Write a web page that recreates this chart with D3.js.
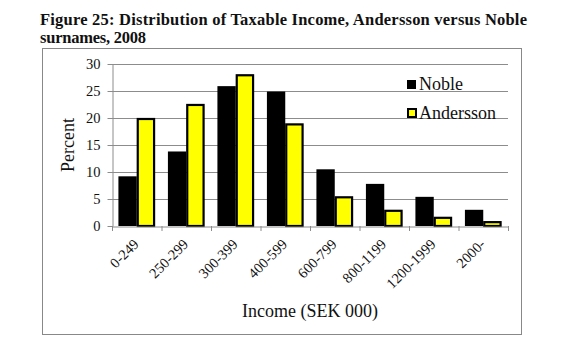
<!DOCTYPE html>
<html>
<head>
<meta charset="utf-8">
<script src="https://cdn.jsdelivr.net/npm/d3@7"></script>
<style>
  html, body { margin: 0; padding: 0; background: #fff; }
  svg { display: block; font-family: "Liberation Serif", "DejaVu Serif", serif; }
</style>
</head>
<body>
<svg id="chart" width="568" height="346"></svg>
<script>
// Income brackets (SEK 000) and share of each surname group, percent
const categories = ["0-249", "250-299", "300-399", "400-599", "600-799", "800-1199", "1200-1999", "2000-"];
const noble = [9.2, 13.8, 25.9, 24.9, 10.5, 7.8, 5.4, 3.0];
const andersson = [20.0, 22.6, 28.1, 19.0, 5.5, 3.0, 1.7, 0.9];
const seriesNames = ["Noble", "Andersson"];
const yTicks = [0, 5, 10, 15, 20, 25, 30];

const svg = d3.select("#chart");

// Title, two lines
const title = svg.append("text")
  .attr("font-weight", "bold").attr("font-size", 16.5).attr("fill", "#111");
title.append("tspan").attr("x", 40).attr("y", 25)
  .attr("textLength", 487).attr("lengthAdjust", "spacing")
  .text("Figure 25:  Distribution of Taxable Income, Andersson versus Noble");
title.append("tspan").attr("x", 40).attr("y", 43)
  .attr("textLength", 106).attr("lengthAdjust", "spacing")
  .text("surnames, 2008");

// Chart frame
svg.append("rect")
  .attr("x", 42.5).attr("y", 48.5).attr("width", 479).attr("height", 286)
  .attr("fill", "none").attr("stroke", "#888").attr("stroke-width", 1);

const plot = { left: 112, right: 508, top: 64, bottom: 226 };

const x = d3.scaleBand().domain(categories).range([plot.left, plot.right]).paddingInner(0).paddingOuter(0);
const sub = d3.scaleBand().domain(seriesNames).range([0, x.bandwidth()]).paddingInner(0).paddingOuter(0.35);
const y = d3.scaleLinear().domain([0, 30]).range([plot.bottom, plot.top]);

// Horizontal gridlines
svg.append("g").selectAll("line").data(yTicks.filter(d => d > 0)).join("line")
  .attr("x1", plot.left).attr("x2", plot.right)
  .attr("y1", d => Math.round(y(d)) + 0.5).attr("y2", d => Math.round(y(d)) + 0.5)
  .attr("stroke", "#8c8c8c").attr("stroke-width", 1);

// Y axis
const yAxis = svg.append("g")
  .attr("transform", `translate(${plot.left + 0.5},0)`)
  .call(d3.axisLeft(y).tickValues(yTicks).tickSize(5).tickPadding(7).tickSizeOuter(0));
yAxis.select(".domain").attr("stroke", "#8c8c8c");
yAxis.selectAll(".tick line").attr("stroke", "#8c8c8c");
yAxis.selectAll(".tick text").attr("font-size", 14.5).attr("fill", "#111")
  .attr("font-family", "Liberation Serif, serif");

// Bars
const groups = svg.append("g").selectAll("g").data(categories).join("g")
  .attr("transform", d => `translate(${x(d)},0)`);

groups.append("rect")
  .attr("x", (d, i) => sub("Noble"))
  .attr("y", (d, i) => y(noble[i]))
  .attr("width", sub.bandwidth())
  .attr("height", (d, i) => y(0) - y(noble[i]))
  .attr("fill", "#000");

groups.append("rect")
  .attr("x", (d, i) => sub("Andersson") + 1)
  .attr("y", (d, i) => y(andersson[i]) + 1)
  .attr("width", sub.bandwidth() - 2)
  .attr("height", (d, i) => Math.max(0, y(0) - y(andersson[i]) - 1))
  .attr("fill", "#ffff00").attr("stroke", "#000").attr("stroke-width", 2.2);

// X axis
const xAxis = svg.append("g")
  .attr("transform", `translate(0,${plot.bottom + 0.5})`)
  .call(d3.axisBottom(x).tickSize(0).tickSizeOuter(0).tickFormat(""));
xAxis.select(".domain").attr("stroke", "#8c8c8c");
svg.append("g").selectAll("line").data(d3.range(categories.length + 1)).join("line")
  .attr("x1", i => plot.left + i * x.bandwidth() + 0.5)
  .attr("x2", i => plot.left + i * x.bandwidth() + 0.5)
  .attr("y1", plot.bottom).attr("y2", plot.bottom + 5)
  .attr("stroke", "#8c8c8c");

// Rotated category labels
svg.append("g").selectAll("text").data(categories).join("text")
  .attr("transform", d => `translate(${x(d) + x.bandwidth() / 2 + 3},${plot.bottom + 19}) rotate(-45)`)
  .attr("text-anchor", "end")
  .attr("font-size", 14.5).attr("fill", "#111")
  .text(d => d);

// Axis titles
svg.append("text")
  .attr("transform", `translate(74,${(plot.top + plot.bottom) / 2}) rotate(-90)`)
  .attr("text-anchor", "middle").attr("font-size", 18).attr("fill", "#111")
  .text("Percent");
svg.append("text")
  .attr("x", 310).attr("y", 317)
  .attr("text-anchor", "middle").attr("font-size", 18).attr("fill", "#111")
  .text("Income (SEK 000)");

// Legend
const legend = svg.append("g").attr("transform", "translate(407,80)");
legend.append("rect").attr("x", 0).attr("y", 0).attr("width", 9).attr("height", 9).attr("fill", "#000");
legend.append("text").attr("x", 12).attr("y", 10).attr("font-size", 18).attr("fill", "#111").text(seriesNames[0]);
legend.append("rect").attr("x", 1).attr("y", 29).attr("width", 8).attr("height", 8)
  .attr("fill", "#ffff00").attr("stroke", "#000").attr("stroke-width", 2);
legend.append("text").attr("x", 12).attr("y", 39).attr("font-size", 18).attr("fill", "#111").text(seriesNames[1]);
</script>
</body>
</html>
